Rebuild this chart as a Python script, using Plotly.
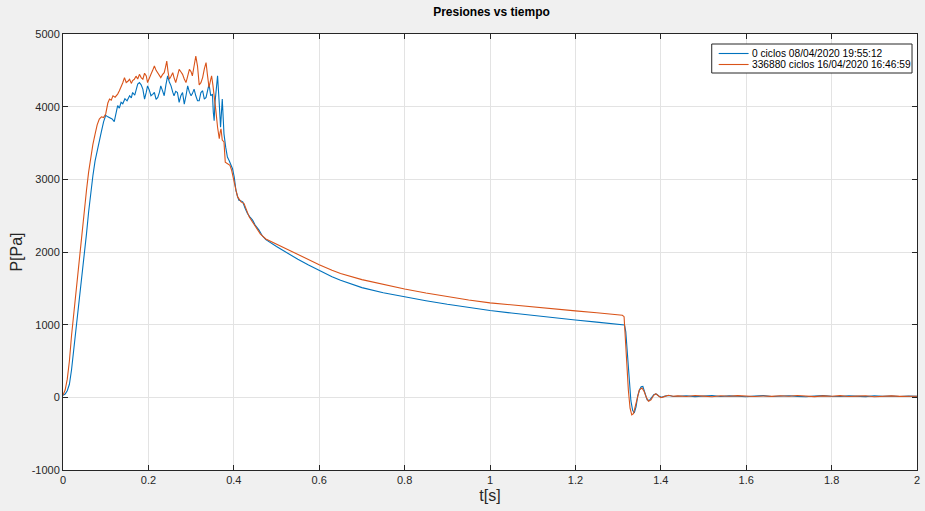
import plotly.graph_objects as go

# ---- data: 0 ciclos (blue) ----
t_blue = [0.000, 0.005, 0.010, 0.015, 0.020, 0.025, 0.030, 0.035, 0.040, 0.045,
          0.050, 0.055, 0.060, 0.065, 0.070, 0.075, 0.080, 0.085, 0.090, 0.095,
          0.100, 0.105, 0.110, 0.115, 0.120, 0.125, 0.128, 0.132, 0.136, 0.140,
          0.145, 0.150, 0.156, 0.160, 0.163, 0.168, 0.172, 0.175, 0.179, 0.183,
          0.187, 0.191, 0.195, 0.198, 0.202, 0.206, 0.210, 0.214, 0.218, 0.222,
          0.226, 0.229, 0.233, 0.237, 0.241, 0.245, 0.249, 0.253, 0.257, 0.260,
          0.264, 0.268, 0.272, 0.276, 0.280, 0.284, 0.288, 0.292, 0.296, 0.300,
          0.303, 0.307, 0.311, 0.315, 0.319, 0.323, 0.327, 0.331, 0.335, 0.338,
          0.342, 0.346, 0.350, 0.352, 0.354, 0.356, 0.359, 0.362, 0.366, 0.369,
          0.373, 0.377, 0.381, 0.385, 0.389, 0.393, 0.397, 0.401, 0.405, 0.409,
          0.412, 0.416, 0.421, 0.426, 0.432, 0.438, 0.444, 0.450, 0.459, 0.467,
          0.475, 0.500, 0.525, 0.550, 0.575, 0.600, 0.630, 0.650, 0.700, 0.750,
          0.800, 0.850, 0.900, 0.950, 1.000, 1.050, 1.100, 1.150, 1.200, 1.250,
          1.300, 1.315, 1.318, 1.322, 1.326, 1.330, 1.334, 1.338, 1.342, 1.346,
          1.350, 1.354, 1.358, 1.363, 1.368, 1.373, 1.378, 1.384, 1.390, 1.396,
          1.402, 1.410, 1.420, 1.430, 1.440, 1.460, 1.480, 1.500, 1.520, 1.540,
          1.560, 1.580, 1.600, 1.620, 1.640, 1.660, 1.680, 1.700, 1.720, 1.740,
          1.760, 1.780, 1.800, 1.820, 1.840, 1.860, 1.880, 1.900, 1.920, 1.940,
          1.960, 1.980, 2.000]
p_blue = [30, 45, 90, 180, 380, 640, 930, 1180, 1440, 1700,
          1950, 2250, 2550, 2820, 3050, 3250, 3400, 3540, 3660, 3790,
          3880, 3860, 3840, 3830, 3795, 3920, 4014, 3980, 4060, 4040,
          4110, 4080, 4150, 4120, 4195, 4160, 4230, 4310, 4332, 4300,
          4241, 4105, 4200, 4286, 4230, 4150, 4170, 4195, 4100, 4127,
          4200, 4286, 4220, 4150, 4300, 4423, 4340, 4286, 4200, 4150,
          4210, 4195, 4059, 4150, 4195, 4036, 4150, 4286, 4200, 4150,
          4180, 4241, 4150, 4082, 4082, 4195, 4219, 4105, 4128, 4218,
          4310, 4150, 4174, 3923, 3808, 4059, 4300, 4425, 4037, 3717,
          4105, 3626, 3443, 3306, 3260, 3200, 3146, 3032, 2849, 2760,
          2712, 2705, 2690, 2610, 2530, 2480, 2438, 2370, 2301, 2220,
          2170, 2075, 1985, 1900, 1820, 1745, 1660, 1610, 1510, 1440,
          1380, 1330, 1280, 1235, 1195, 1160, 1125, 1095, 1065, 1035,
          1008, 995, 900, 600, 250, -50, -180, -215, -130, 20,
          100, 145, 150, 60, -35, -45, -10, 40, 45, 15,
          0, 18, 25, 12, 15, 22, 10, 18, 25, 12,
          20, 14, 8, 19, 23, 11, 17, 21, 13, 9,
          18, 24, 15, 12, 20, 16, 10, 22, 14, 18,
          11, 19, 15]

# ---- data: 336880 ciclos (orange) ----
t_orange = [0.000, 0.005, 0.010, 0.015, 0.020, 0.025, 0.030, 0.035, 0.040, 0.045,
            0.050, 0.055, 0.060, 0.065, 0.070, 0.075, 0.080, 0.085, 0.090, 0.095,
            0.100, 0.105, 0.109, 0.113, 0.117, 0.122, 0.128, 0.132, 0.136, 0.140,
            0.144, 0.148, 0.152, 0.156, 0.160, 0.163, 0.167, 0.171, 0.175, 0.179,
            0.183, 0.187, 0.191, 0.195, 0.198, 0.202, 0.206, 0.210, 0.214, 0.218,
            0.222, 0.226, 0.229, 0.233, 0.237, 0.240, 0.243, 0.246, 0.249, 0.253,
            0.257, 0.260, 0.264, 0.268, 0.272, 0.276, 0.280, 0.284, 0.288, 0.292,
            0.296, 0.300, 0.303, 0.307, 0.311, 0.315, 0.319, 0.323, 0.327, 0.331,
            0.335, 0.338, 0.342, 0.346, 0.348, 0.351, 0.354, 0.358, 0.362, 0.366,
            0.368, 0.370, 0.373, 0.377, 0.380, 0.385, 0.391, 0.395, 0.401, 0.405,
            0.409, 0.417, 0.424, 0.430, 0.436, 0.443, 0.451, 0.462, 0.475, 0.500,
            0.525, 0.550, 0.575, 0.600, 0.630, 0.650, 0.700, 0.750, 0.800, 0.850,
            0.900, 0.950, 1.000, 1.050, 1.100, 1.150, 1.200, 1.250, 1.300, 1.310,
            1.314, 1.317, 1.320, 1.324, 1.328, 1.332, 1.336, 1.340, 1.345, 1.350,
            1.356, 1.361, 1.366, 1.371, 1.377, 1.383, 1.388, 1.394, 1.400, 1.408,
            1.418, 1.428, 1.440, 1.460, 1.480, 1.500, 1.520, 1.540, 1.560, 1.580,
            1.600, 1.620, 1.640, 1.660, 1.680, 1.700, 1.720, 1.740, 1.760, 1.780,
            1.800, 1.820, 1.840, 1.860, 1.880, 1.900, 1.920, 1.940, 1.960, 1.980,
            2.000]
p_orange = [30, 100, 250, 500, 850, 1150, 1420, 1680, 1950, 2250,
            2550, 2850, 3100, 3300, 3480, 3620, 3750, 3830, 3860, 3850,
            3900, 4050, 4105, 4090, 4150, 4130, 4173, 4220, 4264, 4330,
            4400, 4332, 4350, 4377, 4320, 4360, 4377, 4420, 4380, 4445,
            4400, 4377, 4460, 4423, 4332, 4400, 4445, 4500, 4559, 4500,
            4468, 4430, 4400, 4440, 4468, 4540, 4627, 4480, 4377, 4420,
            4468, 4400, 4332, 4420, 4514, 4480, 4445, 4380, 4332, 4420,
            4514, 4480, 4423, 4560, 4695, 4559, 4300, 4330, 4400, 4520,
            4607, 4450, 4265, 4377, 4425, 4300, 4174, 3945, 3717, 3559,
            3648, 3695, 3540, 3514, 3237, 3215, 3192, 3123, 2941, 2850,
            2758, 2690, 2667, 2570, 2484, 2420, 2347, 2250, 2180, 2110,
            2030, 1960, 1890, 1825, 1750, 1705, 1620, 1550, 1490, 1435,
            1385, 1340, 1300, 1270, 1240, 1215, 1190, 1165, 1140, 1130,
            1110, 800, 450, 100, -150, -240, -225, -130, 10, 105,
            129, 80, 0, -55, -35, 25, 50, 25, -5, 10,
            28, 15, 20, 12, 25, 16, 9, 21, 14, 24,
            17, 11, 19, 13, 22, 15, 26, 18, 10, 20,
            14, 23, 12, 17, 21, 9, 16, 20, 13, 18,
            14]

series_names = ["0 ciclos 08/04/2020 19:55:12", "336880 ciclos 16/04/2020 16:46:59"]
series_colors = ["#0072BD", "#D95319"]

x_ticks = [0, 0.2, 0.4, 0.6, 0.8, 1, 1.2, 1.4, 1.6, 1.8, 2]
x_ticklabels = ["0", "0.2", "0.4", "0.6", "0.8", "1", "1.2", "1.4", "1.6", "1.8", "2"]
y_ticks = [-1000, 0, 1000, 2000, 3000, 4000, 5000]
y_ticklabels = ["-1000", "0", "1000", "2000", "3000", "4000", "5000"]

fig = go.Figure()
for t, p, name, col in [(t_blue, p_blue, series_names[0], series_colors[0]),
                        (t_orange, p_orange, series_names[1], series_colors[1])]:
    fig.add_trace(go.Scatter(x=t, y=p, mode="lines", name=name, showlegend=False,
                             line=dict(color=col, width=1.1)))

# compact MATLAB-style legend drawn in paper coordinates
W, H = 925, 511
L, R, T, B = 63, 5, 34, 41
pw, ph = W - L - R, H - T - B
def px(x):
    return (x - L) / pw
def py(y):
    return (H - B - y) / ph

fig.add_shape(type="rect", xref="paper", yref="paper",
              x0=px(714), x1=px(915), y0=py(73), y1=py(44),
              fillcolor="white", line=dict(color="#262626", width=1), layer="above")
row_y = [53.5, 64.5]
for name, col, ry in zip(series_names, series_colors, row_y):
    fig.add_shape(type="line", xref="paper", yref="paper",
                  x0=px(721), x1=px(751), y0=py(ry), y1=py(ry),
                  line=dict(color=col, width=1.1), layer="above")
    fig.add_annotation(xref="paper", yref="paper", x=px(752), y=py(ry),
                       xanchor="left", yanchor="middle", text=name, showarrow=False,
                       font=dict(family="Liberation Sans, Arial, sans-serif", size=10.2,
                                 color="#000000"))

axis_font = dict(family="Liberation Sans, Arial, sans-serif", size=11, color="#262626")
fig.update_layout(
    width=W, height=H,
    margin=dict(l=L, r=R, t=T, b=B),
    paper_bgcolor="#f0f0f0",
    plot_bgcolor="white",
    title=dict(text="<b>Presiones vs tiempo</b>", x=(63 + 920) / 2 / 925, xanchor="center",
               y=1 - 12 / 511, yanchor="middle",
               font=dict(family="Liberation Sans Narrow, Liberation Sans, Arial, sans-serif",
                         size=12, color="#000000")),
    showlegend=False,
    xaxis=dict(range=[0, 2], tickvals=x_ticks, ticktext=x_ticklabels,
               showgrid=True, gridcolor="#e3e3e3", gridwidth=1,
               zeroline=False, showline=True, linecolor="#262626", linewidth=1,
               mirror="ticks", ticks="inside", ticklen=5, tickcolor="#262626",
               tickfont=dict(family="Liberation Sans Narrow, Liberation Sans, Arial, sans-serif",
                             size=11, color="#262626"),
               title=dict(text="t[s]", font=dict(family="Liberation Sans, Arial, sans-serif",
                                                 size=16, color="#262626"), standoff=4)),
    yaxis=dict(range=[-1000, 5000], tickvals=y_ticks, ticktext=y_ticklabels,
               showgrid=True, gridcolor="#e3e3e3", gridwidth=1,
               zeroline=False, showline=True, linecolor="#262626", linewidth=1,
               mirror="ticks", ticks="inside", ticklen=5, tickcolor="#262626",
               tickfont=axis_font,
               title=dict(text="P[Pa]", font=dict(family="Liberation Sans, Arial, sans-serif",
                                                  size=16, color="#262626"), standoff=5)),
)

fig.write_html("out.html")
